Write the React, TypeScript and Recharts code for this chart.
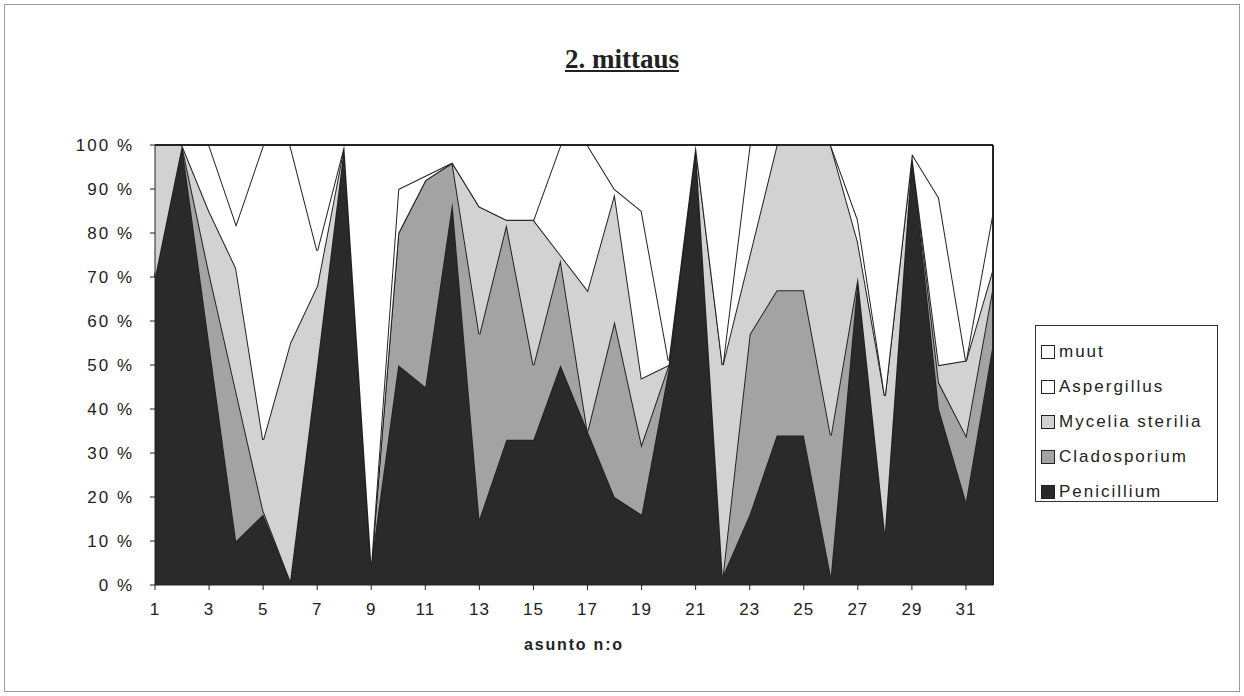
import { AreaChart, Area, XAxis, YAxis, ReferenceLine } from "recharts";

// asunto n:o
const asunto = [
  1, 2, 3, 4, 5, 6, 7, 8, 9, 10, 11, 12, 13, 14, 15, 16,
  17, 18, 19, 20, 21, 22, 23, 24, 25, 26, 27, 28, 29, 30, 31, 32,
];

// osuudet (%) luettu kuvasta
const penicillium = [70, 100, 55, 10, 16, 1, 50, 100, 5, 50, 45, 87, 15, 33, 33, 50, 35, 20, 16, 49, 100, 2, 16, 34, 34, 2, 70, 12, 98, 40, 19, 55];
const cladosporium = [0, 0, 16, 34, 1, 0, 0, 0, 0, 30, 47, 9, 42, 49, 17, 24, 0, 40, 16, 1, 0, 0, 41, 33, 33, 32, 0, 0, 0, 6, 15, 13];
const myceliaSterilia = [30, 0, 14, 28, 16, 54, 18, 0, 0, 0, 0, 0, 29, 1, 33, 1, 32, 29, 15, 0, 0, 48, 18, 33, 33, 66, 8, 31, 0, 4, 17, 4];
const aspergillus = [0, 0, 15, 10, 67, 45, 8, 0, 0, 10, 1, 0, 0, 0, 0, 25, 33, 1, 38, 1, 0, 0, 25, 0, 0, 0, 5, 0, 0, 38, 0, 13];
const muut = [0, 0, 0, 18, 0, 0, 24, 0, 95, 10, 7, 4, 14, 17, 17, 0, 0, 10, 15, 49, 0, 50, 0, 0, 0, 0, 17, 57, 2, 12, 49, 15];

const yTicks = [0, 0.1, 0.2, 0.3, 0.4, 0.5, 0.6, 0.7, 0.8, 0.9, 1];

const series = [
  { key: "Penicillium", values: penicillium, fill: "#2a2a2a" },
  { key: "Cladosporium", values: cladosporium, fill: "#a3a3a3" },
  { key: "Mycelia sterilia", values: myceliaSterilia, fill: "#d2d2d2" },
  { key: "Aspergillus", values: aspergillus, fill: "#ffffff" },
  { key: "muut", values: muut, fill: "#ffffff" },
];

const data = asunto.map((n, i) => {
  const row: Record<string, number> = { n };
  series.forEach((s) => (row[s.key] = s.values[i]));
  return row;
});

const ink = "#222";
const sans = '"Liberation Sans", Arial, sans-serif';

export default function App() {
  return (
    <div style={{ position: "relative", width: 1244, height: 696, background: "#fff" }}>
      <style>{"body{margin:0}"}</style>
      {/* ulkokehys */}
      <div
        style={{
          position: "absolute",
          left: 4,
          top: 4,
          width: 1234,
          height: 686,
          border: "1px solid #9a9a9a",
        }}
      />
      <div
        style={{
          position: "absolute",
          left: 0,
          width: 1244,
          top: 44,
          textAlign: "center",
          fontFamily: '"Liberation Serif", "Times New Roman", serif',
          fontWeight: "bold",
          fontSize: 27,
          color: ink,
          textDecoration: "underline",
        }}
      >
        2. mittaus
      </div>

      <div style={{ position: "absolute", left: 0, top: 0 }}>
        <AreaChart
          width={1244}
          height={696}
          data={data}
          stackOffset="expand"
          margin={{ top: 145, right: 251, bottom: 81, left: 95 }}
        >
          <XAxis
            dataKey="n"
            interval={1}
            tickSize={5}
            tickMargin={13}
            stroke={ink}
            tick={{ fill: ink, fontSize: 17, fontFamily: sans, letterSpacing: 1 }}
            height={30}
          />
          <YAxis
            domain={[0, 1]}
            ticks={yTicks}
            tickFormatter={(v: number) => `${Math.round(v * 100)} %`}
            tickSize={5}
            tickMargin={16}
            width={60}
            stroke={ink}
            tick={{ fill: ink, fontSize: 17, fontFamily: sans, letterSpacing: 2 }}
          />
          {series.map((s) => (
            <Area
              key={s.key}
              type="linear"
              dataKey={s.key}
              stackId="1"
              stroke={ink}
              strokeWidth={2}
              fill={s.fill}
              fillOpacity={1}
              dot={false}
              activeDot={false}
              isAnimationActive={false}
            />
          ))}
          <ReferenceLine x={32} stroke={ink} strokeWidth={2} />
          <ReferenceLine y={1} stroke={ink} strokeWidth={2} />
        </AreaChart>
      </div>

      <div
        style={{
          position: "absolute",
          left: 0,
          width: 1148,
          top: 636,
          textAlign: "center",
          fontFamily: sans,
          fontWeight: "bold",
          fontSize: 16,
          letterSpacing: 1.8,
          color: ink,
        }}
      >
        asunto n:o
      </div>

      {/* selite */}
      <div
        style={{
          position: "absolute",
          left: 1035,
          top: 325,
          width: 183,
          height: 177,
          boxSizing: "border-box",
          border: "1.5px solid #333",
          padding: "8px 0 0 5px",
          fontFamily: sans,
          fontSize: 17,
          letterSpacing: 2,
          color: ink,
        }}
      >
        {[...series].reverse().map((s) => (
          <div key={s.key} style={{ display: "flex", alignItems: "center", height: 35 }}>
            <span
              style={{
                display: "inline-block",
                width: 12,
                height: 12,
                border: "1.5px solid #222",
                background: s.fill,
                marginRight: 4,
              }}
            />
            {s.key}
          </div>
        ))}
      </div>
    </div>
  );
}
